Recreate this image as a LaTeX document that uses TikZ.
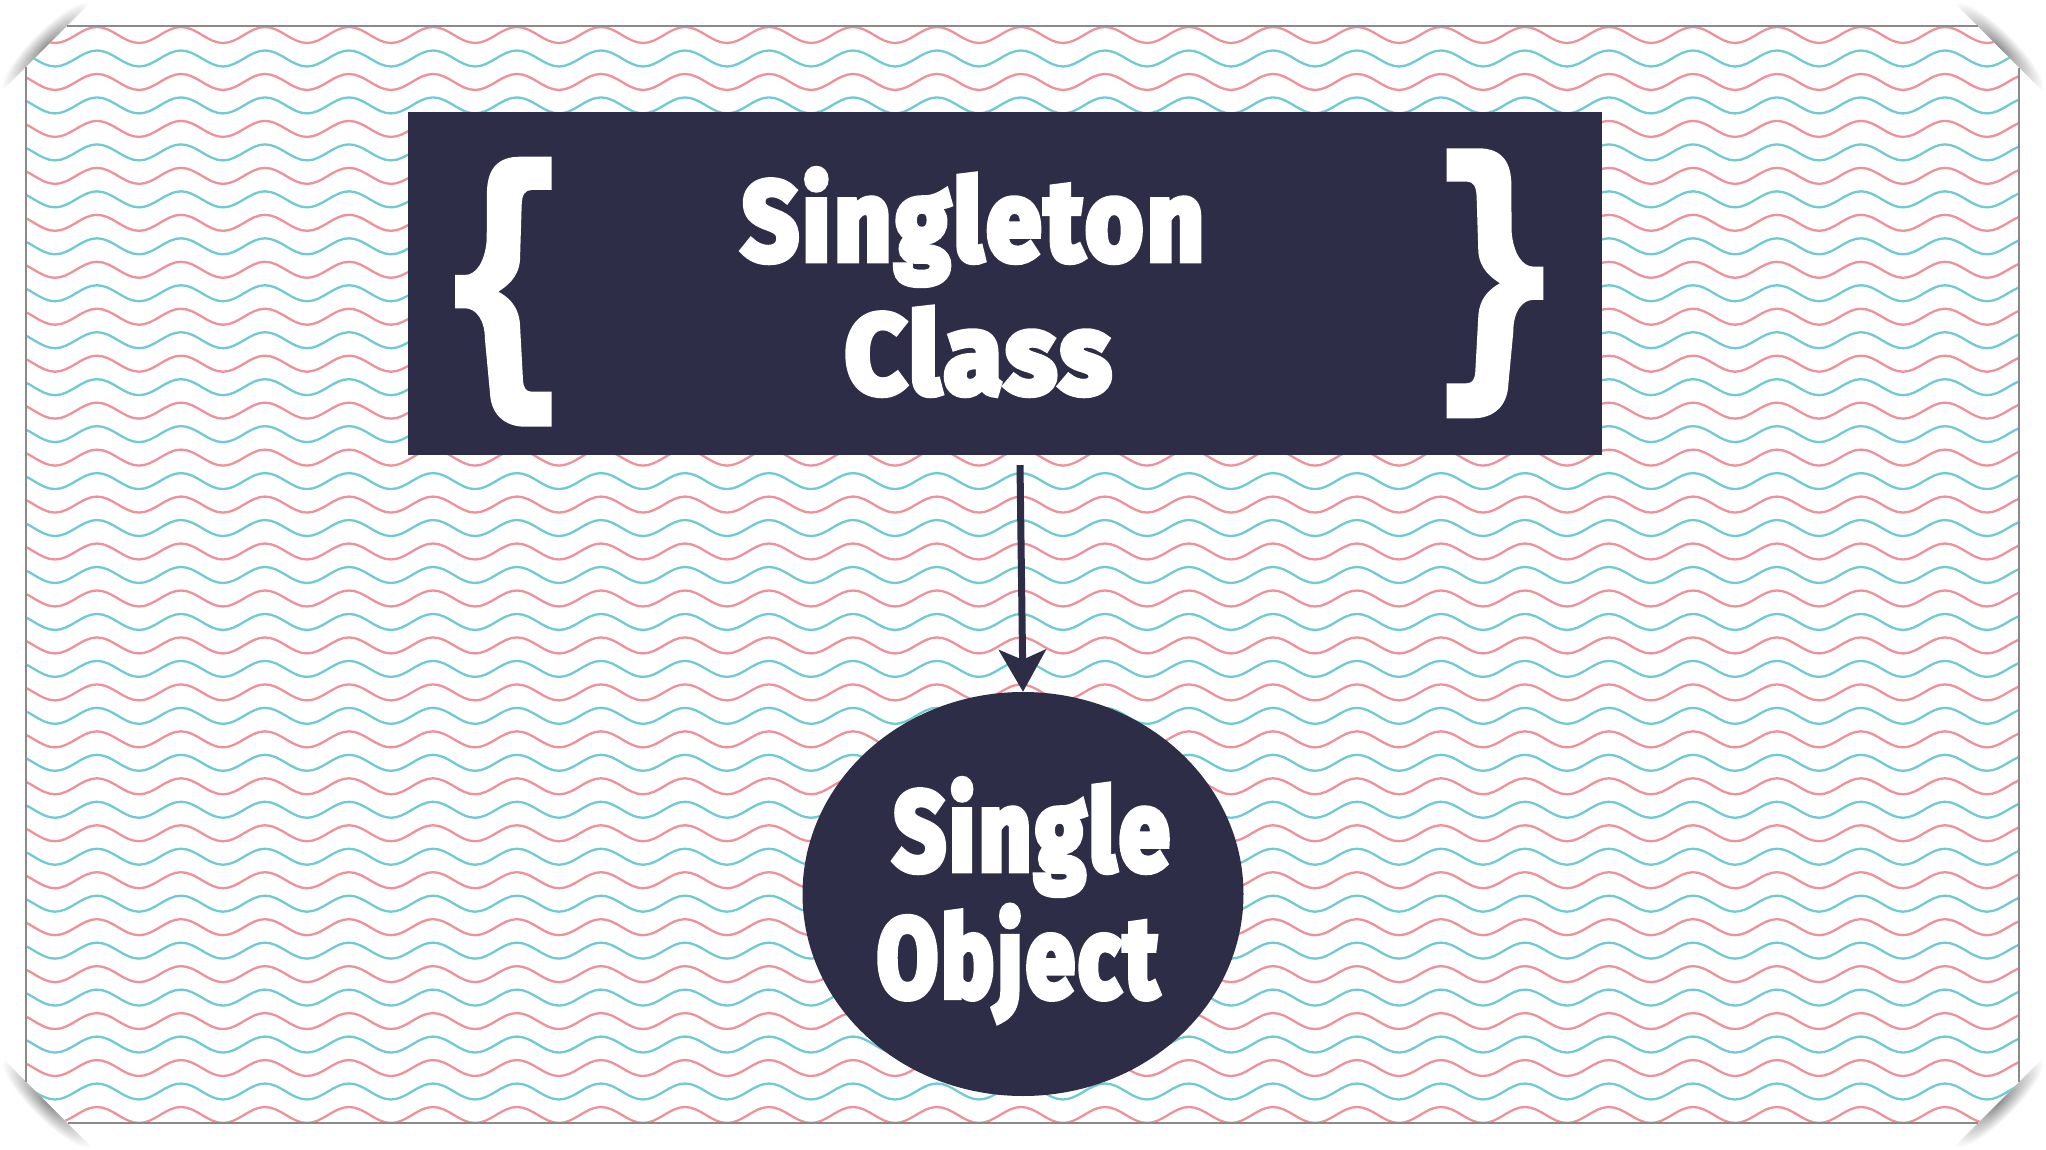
\documentclass[tikz,border=0pt]{standalone}
\usepackage{fontspec}
\usepackage{graphicx}
\usetikzlibrary{shapes.geometric,arrows.meta,calc}
\newfontfamily\impfont{Fira Sans}[BoldFeatures={FakeBold=6,LetterSpace=4}]
\definecolor{navy}{HTML}{2E2D48}
\definecolor{wred}{HTML}{F0909A}
\definecolor{wteal}{HTML}{6ECBD3}
\definecolor{framegray}{HTML}{8A8A8A}
\tikzset{
  wave/.style={line width=2.3pt},
  framel/.style={draw=framegray, line width=1.4pt},
  lbl/.style={text=white, inner sep=0pt, anchor=base, font=\impfont\bfseries\fontsize{112}{120}\selectfont},
  curlybr/.pic={\fill[white] (96.7,0) -- (65,0) .. controls (42,0) and (33,13) .. (32,33.3) -- (31.7,83.3) .. controls (30,105) and (21,118.3) .. (10,118.3) -- (0,118.3) -- (0,151.6) -- (10,151.6) .. controls (21,151.6) and (30,163) .. (30,183.3) -- (35,236.6) .. controls (36,258) and (50,270) .. (70,270) -- (96.7,270) -- (96.7,235) -- (76.7,235) .. controls (71,235) and (68.3,231) .. (68,223) -- (65,168) .. controls (64,148) and (51,139) .. (43.3,135) .. controls (51,130) and (64,121) .. (65,103) -- (66.7,48) .. controls (67,38) and (70,33.3) .. (76.7,33.3) -- (96.7,33.3) -- cycle;}
}
\newcommand\cornershadow[2]{%
  \begin{scope}[transform canvas={shift={#1},rotate=#2}]
    \clip (-80pt,0pt) rectangle (80pt,40pt);
    \shade[inner color=black!45, outer color=white] (0pt,0pt) ellipse [x radius=62pt, y radius=16pt];
  \end{scope}}
\begin{document}
\begin{tikzpicture}[x=1pt,y=-1pt]
\useasboundingbox (0,0) rectangle (2046,1150);
\fill[white] (0,0) rectangle (2046,1150);
% corner shadows
\cornershadow{(46.5,46.5)}{45}
\cornershadow{(1998.5,47)}{-45}
\cornershadow{(47,1102.5)}{135}
\cornershadow{(1998.5,1102.5)}{-135}
% waves
\begin{scope}
\clip (26,67)--(67,26)--(1978,26)--(2019,68)--(2019,1082)--(1978,1123)--(68,1123)--(26,1082)--cycle;
\foreach \i in {0,...,46}{
  \pgfmathsetmacro\yc{35+\i*23.478}
  \pgfmathtruncatemacro\wpar{mod(\i,2)}
  \ifnum\wpar=0 \def\wcol{wred}\else\def\wcol{wteal}\fi
  \draw[wave, draw=\wcol] (-71,\yc-8) \foreach \k in {0,...,25}{ cos ++(21,8) sin ++(21,8) cos ++(21,-8) sin ++(21,-8) };
}
\end{scope}
% frame
\draw[framel] (67,26) -- (1978,26);
\draw[framel] (2019,68) -- (2019,1082);
\draw[framel] (68,1123) -- (1978,1123);
\draw[framel] (26,67) -- (26,1082);
% class box
\node[fill=navy, minimum width=1194pt, minimum height=343pt, inner sep=0pt] (cls) at (1005,283.5) {};
\pic at (455,156.7) {curlybr};
\pic[xscale=-1] at (1543.3,148.3) {curlybr};
% object
\node[ellipse, fill=navy, minimum width=441pt, minimum height=404pt, inner sep=0pt] (obj) at (1023,894) {};
\coordinate (a0) at ($(cls.south)+(15,10)$);
\draw[navy, line width=7pt, -{Stealth[length=42pt,width=47pt,inset=10pt]}] (a0) -- (obj.north);
% labels
\node[lbl] (t1) at (973,260) {\resizebox{462pt}{\height}{Singleton}};
\node[lbl] (t2) at (978,393) {\resizebox{266pt}{\height}{Class}};
\node[lbl] (t3) at (1031.5,870) {\resizebox{276pt}{\height}{Single}};
\node[lbl] (t4) at (1017.5,996.7) {\resizebox{281pt}{\height}{Object}};
\end{tikzpicture}
\end{document}
